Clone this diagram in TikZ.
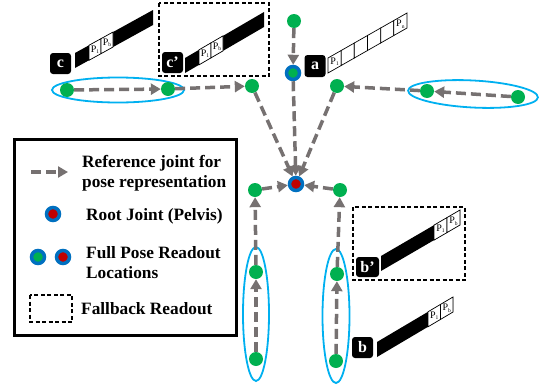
\documentclass[tikz,border=0pt]{standalone}
\usepackage{fontspec}
\setmainfont{Liberation Serif}
\usetikzlibrary{arrows.meta,shapes.geometric}

\definecolor{jointgreen}{RGB}{0,176,80}
\definecolor{ringblue}{RGB}{0,112,192}
\definecolor{rootred}{RGB}{192,0,0}
\definecolor{limbcyan}{RGB}{0,176,240}
\definecolor{linkgray}{RGB}{118,113,113}

% slanted readout bar: #1 = bottom-left corner, #2 = length, #3 = rise, #4 = fill
\newcommand\readoutbar[4]{%
  \begin{scope}[shift={#1}, yslant=#3/#2]
    \fill[#4] (0,0) rectangle (#2,-15);
  \end{scope}}
% one cell in a bar: #1 corner, #2 length, #3 rise, #4 from, #5 to, #6 text
\newcommand\readoutcell[6]{%
  \begin{scope}[shift={#1}, yslant=#3/#2]
    \draw[fill=white, line width=0.7pt] (#4,0) rectangle (#5,-15);
    \node[celltext] at ({(#4+#5)/2},-7.5) {#6};
  \end{scope}}

\tikzset{
  joint/.style={circle, fill=jointgreen, minimum size=14pt, inner sep=0pt},
  readout/.style={circle, fill=jointgreen, draw=ringblue, line width=3.5pt,
    minimum size=13pt, inner sep=0pt},
  rootjoint/.style={readout, fill=rootred},
  link/.style={draw=linkgray, line width=3.5pt, dash pattern=on 10pt off 5pt,
    -{Triangle[length=10pt,width=11pt]}},
  limb/.style={ellipse, draw=limbcyan, line width=1.8pt, inner sep=0pt},
  fallback/.style={draw, line width=1.5pt, dash pattern=on 4pt off 2.5pt},
  labelbox/.style={fill=black, rounded corners=3pt, text=white,
    minimum width=21pt, minimum height=21pt, inner sep=0pt,
    font=\fontsize{16}{16}\selectfont\bfseries},
  celltext/.style={inner sep=0pt, font=\fontsize{10}{10}\selectfont},
  legendtext/.style={anchor=west, inner sep=0pt, align=left,
    font=\fontsize{17.3}{20}\selectfont\bfseries},
}

\newcommand\Psub[1]{P\raisebox{-1.5pt}{\fontsize{5.5}{5.5}\selectfont #1}}

\begin{document}
\begin{tikzpicture}[x=1pt, y=-1pt]
  \useasboundingbox (0,0) rectangle (539,386);

  % limb groups
  \node[limb, minimum width=132pt, minimum height=25pt] (armL) at (118,90) {};
  \node[limb, minimum width=130pt, minimum height=27pt, rotate=-3] (armR) at (473,94) {};
  \node[limb, minimum width=26pt, minimum height=134pt] (legL) at (256,314) {};
  \node[limb, minimum width=27pt, minimum height=134pt] (legR) at (336,316) {};

  % fallback readout frames
  \draw[fallback] (159,3) rectangle (269,76);
  \draw[fallback] (353,207) rectangle (465,280);

  % joints
  \node[joint] (head) at (294,21) {};
  \node[readout] (neck) at (293,73) {};
  \node[rootjoint] (root) at (296,184) {};
  \node[joint] (cA) at (67,90) {};
  \node[joint] (cB) at (168,89) {};
  \node[joint] (cC) at (252,86) {};
  \node[joint] (rA) at (518,97) {};
  \node[joint] (rB) at (427,91) {};
  \node[joint] (rC) at (337,86) {};
  \node[joint] (hipL) at (255,190) {};
  \node[joint] (hipR) at (340,190) {};
  \node[joint] (kneeL) at (256,272) {};
  \node[joint] (footL) at (256,359) {};
  \node[joint] (kneeR) at (337,274) {};
  \node[joint] (footR) at (336,361) {};

  % reference links
  \draw[link] (head) -- (neck);
  \draw[link] (neck) -- (root);
  \draw[link] (cA) -- (cB);
  \draw[link] (cB) -- (cC);
  \draw[link] (cC) -- (root);
  \draw[link] (rA) -- (rB);
  \draw[link] (rB) -- (rC);
  \draw[link] (rC) -- (root);
  \draw[link] (hipL) -- (root);
  \draw[link] (hipR) -- (root);
  \draw[link] (footL) -- (kneeL);
  \draw[link] (kneeL) -- (hipL);
  \draw[link] (footR) -- (kneeR);
  \draw[link] (kneeR) -- (hipR);

  % readout bars
  \readoutbar{(75,68)}{78}{43}{black}
  \readoutcell{(75,68)}{78}{43}{14}{26}{\Psub{1}}
  \readoutcell{(75,68)}{78}{43}{26}{38}{\Psub{b}}
  \node[labelbox] (labc) at (60.5,63.5) {c};

  \readoutbar{(185,73)}{79}{46}{black}
  \readoutcell{(185,73)}{79}{46}{14}{26}{\Psub{1}}
  \readoutcell{(185,73)}{79}{46}{26}{38}{\Psub{b}}
  \node[labelbox] (labcc) at (172.5,62.5) {c’};

  \readoutcell{(328,73)}{79}{45}{0}{13.2}{\Psub{1}}
  \readoutcell{(328,73)}{79}{45}{13.2}{26.3}{}
  \readoutcell{(328,73)}{79}{45}{26.3}{39.5}{}
  \readoutcell{(328,73)}{79}{45}{39.5}{52.7}{}
  \readoutcell{(328,73)}{79}{45}{52.7}{65.8}{}
  \readoutcell{(328,73)}{79}{45}{65.8}{79}{\Psub{n}}
  \node[labelbox, minimum height=22pt] (laba) at (315,66) {a};

  \readoutbar{(381,271)}{79}{46}{black}
  \readoutcell{(381,271)}{79}{46}{53}{66}{\Psub{1}}
  \readoutcell{(381,271)}{79}{46}{66}{79}{\Psub{b}}
  \node[labelbox, minimum width=23pt, minimum height=20pt] (labbb) at (367.5,267) {b’};

  \readoutbar{(377,357)}{76}{45}{black}
  \readoutcell{(377,357)}{76}{45}{51}{63.5}{\Psub{1}}
  \readoutcell{(377,357)}{76}{45}{63.5}{76}{\Psub{b}}
  \node[labelbox] (labb) at (362.5,347.5) {b};

  % legend
  \draw[line width=3pt] (14,139) rectangle (236,335);
  \coordinate (legFrom) at (31,172);
  \coordinate (legTo) at (68,172);
  \draw[link] (legFrom) -- (legTo);
  \node[legendtext] (txtRef) at (82,173) {Reference joint for\\pose representation};
  \node[rootjoint] (legRoot) at (53,214) {};
  \node[legendtext] (txtRoot) at (86,216) {Root Joint (Pelvis)};
  \node[readout] (legG) at (38,257) {};
  \node[rootjoint] (legR) at (63,257) {};
  \node[legendtext] (txtFull) at (86,263) {Full Pose Readout\\Locations};
  \draw[fallback] (30,295) rectangle (72,322);
  \node[legendtext] (txtFall) at (81,309) {Fallback Readout};
\end{tikzpicture}
\end{document}
